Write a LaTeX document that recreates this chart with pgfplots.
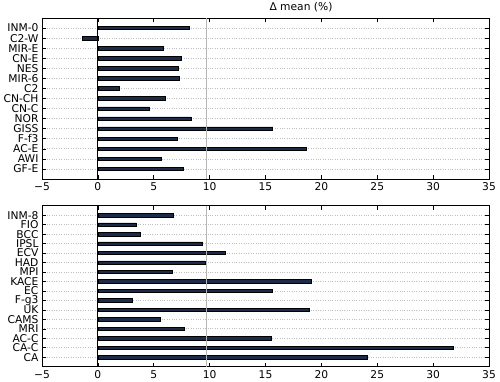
\documentclass[border=0pt]{standalone}
\usepackage{pgfplots}
\pgfplotsset{compat=1.18}
\usepackage{fontspec}
\setmainfont{DejaVu Sans}
\definecolor{barnavy}{HTML}{1C2C48}
\definecolor{vgray}{HTML}{B4B4B4}
\definecolor{gridgray}{HTML}{BFBFBF}
\begin{document}
\begin{tikzpicture}
\useasboundingbox (0pt,0pt) rectangle (500pt,382pt);
\pgfplotsset{
  myaxis/.style={
    scale only axis, width=447pt, height=161pt,
    xmin=-5, xmax=35,
    xtick={-5,0,5,10,15,20,25,30,35},
    xticklabels={−5,0,5,10,15,20,25,30,35},
    y dir=reverse,
    tick align=inside,
    major tick length=4pt,
    ymajorgrids,
    grid style={dotted, gridgray, line width=0.7pt},
    axis line style={black, line width=0.8pt},
    tick style={black, line width=0.6pt},
    ticklabel style={font=\fontsize{10.7}{12}\selectfont},
    /pgf/number format/assume math mode=true,
    bar width=3.4pt,
  },
}
\begin{axis}[myaxis, at={(42pt,203pt)}, anchor=south west,
  ymin=-1, ymax=15, ytick={0,...,14},
  yticklabels={INM-0,C2-W,MIR-E,CN-E,NES,MIR-6,C2,CN-CH,CN-C,NOR,GISS,F-f3,AC-E,AWI,GF-E}]
\addplot[xbar, draw=black, line width=0.6pt, fill=barnavy] coordinates {
(8.2,0) (-1.35,1) (5.87,2) (7.43,3) (7.2,4) (7.33,5) (1.92,6) (6.0,7) (4.64,8) (8.35,9) (15.65,10) (7.07,11) (18.67,12) (5.69,13) (7.66,14)};
\addplot[sharp plot, no marks, black, line width=1pt] coordinates {(0,-1) (0,15)};
\addplot[sharp plot, no marks, vgray, line width=1.4pt] coordinates {(9.7,-1) (9.7,15)};
\end{axis}
\begin{axis}[myaxis, at={(42pt,15.3pt)}, anchor=south west,
  ymin=-1, ymax=16, ytick={0,...,15},
  yticklabels={INM-8,FIO,BCC,IPSL,ECV,HAD,MPI,KACE,EC,F-g3,UK,CAMS,MRI,AC-C,CA-C,CA}]
\addplot[xbar, draw=black, line width=0.6pt, fill=barnavy] coordinates {
(6.77,0) (3.44,1) (3.8,2) (9.34,3) (11.4,4) (9.58,5) (6.65,6) (19.09,7) (15.57,8) (3.08,9) (18.94,10) (5.6,11) (7.71,12) (15.54,13) (31.82,14) (24.08,15)};
\addplot[sharp plot, no marks, black, line width=1pt] coordinates {(0,-1) (0,16)};
\addplot[sharp plot, no marks, vgray, line width=1.4pt] coordinates {(9.7,-1) (9.7,16)};
\end{axis}
\node[font=\fontsize{10.7}{12}\selectfont] at (301pt,374.5pt) {Δ mean (\%)};
\end{tikzpicture}
\end{document}
